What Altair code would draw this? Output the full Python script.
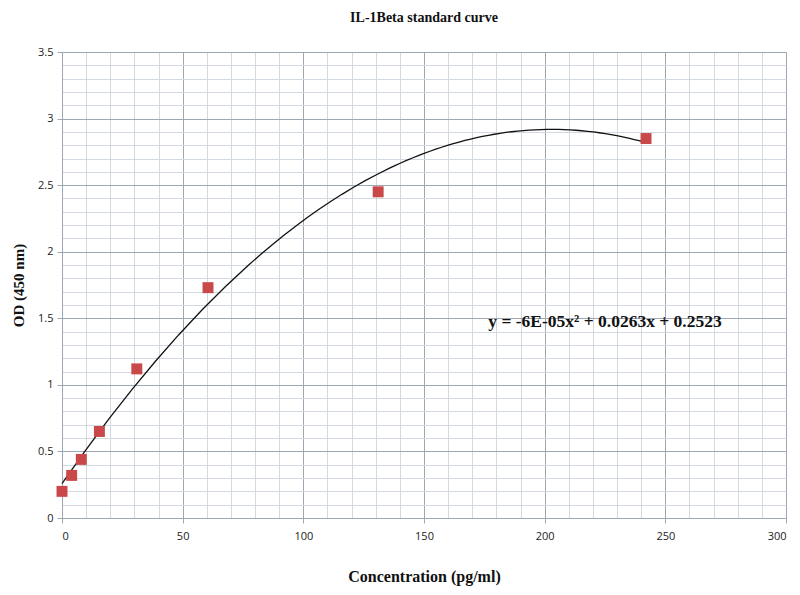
import altair as alt
import pandas as pd

# Standard concentrations (pg/ml) and measured OD (450 nm)
conc = [0, 4, 8, 15.5, 31, 60.5, 131, 242]
od = [0.20, 0.32, 0.44, 0.65, 1.12, 1.73, 2.45, 2.85]

x_ticks = list(range(0, 301, 10))
y_ticks = [round(i * 0.1, 1) for i in range(0, 36)]

eq_label = ["y = -6E-05x\u00b2 + 0.0263x + 0.2523"]
eq_x = [225]
eq_y = [1.47]

df = pd.DataFrame({"conc": conc, "od": od})
eq_df = pd.DataFrame({"conc": eq_x, "od": eq_y, "t": eq_label})

MAJOR = "#9ea8b3"
MINOR = "#d3d9e0"

x_scale = alt.Scale(domain=[0, 300], nice=False)
y_scale = alt.Scale(domain=[0, 3.5], nice=False)

x_axis = alt.Axis(
    values=x_ticks,
    title="Concentration (pg/ml)",
    labelExpr="datum.value % 50 === 0 ? datum.label : ''",
    labelOverlap=False,
    gridColor=alt.condition("datum.value % 50 === 0", alt.value(MAJOR), alt.value(MINOR)),
    tickColor=alt.condition("datum.value % 50 === 0", alt.value(MAJOR), alt.value("transparent")),
    tickSize=5,
    domainColor=MAJOR,
    labelFont="Open Sans",
    labelFontSize=11,
    labelColor="#222222",
    labelPadding=7,
    titleFont="Liberation Serif",
    titleFontSize=16,
    titleFontWeight="bold",
    titleColor="#111111",
    titlePadding=27,
)
y_axis = alt.Axis(
    values=y_ticks,
    title="OD (450 nm)",
    labelExpr="abs(datum.value*2 - round(datum.value*2)) < 0.001 ? '' + round(datum.value*10)/10 : ''",
    labelOverlap=False,
    gridColor=alt.condition("abs(datum.value*2 - round(datum.value*2)) < 0.001", alt.value(MAJOR), alt.value(MINOR)),
    tickColor=alt.condition("abs(datum.value*2 - round(datum.value*2)) < 0.001", alt.value(MAJOR), alt.value("transparent")),
    tickSize=5,
    domainColor=MAJOR,
    labelFont="Open Sans",
    labelFontSize=11,
    labelColor="#222222",
    labelPadding=4,
    titleFont="Liberation Serif",
    titleFontSize=15,
    titleFontWeight="bold",
    titleColor="#111111",
    titlePadding=11,
)

X = alt.X("conc:Q", scale=x_scale, axis=x_axis)
Y = alt.Y("od:Q", scale=y_scale, axis=y_axis)

base = alt.Chart(df)

curve = base.transform_regression(
    "conc", "od", method="poly", order=2
).mark_line(color="#111111", strokeWidth=1.3).encode(x=X, y=Y)

points = base.mark_square(size=120, color="#c9484a", opacity=1).encode(x=X, y=Y)

eq = alt.Chart(eq_df).mark_text(
    font="Liberation Serif", fontSize=17.5, fontWeight="bold", color="#111111"
).encode(x=X, y=Y, text="t:N")

chart = alt.layer(curve, points, eq).properties(
    width=724,
    height=466,
    title=alt.Title(
        "IL-1Beta standard curve",
        font="Liberation Serif",
        fontSize=14,
        fontWeight="bold",
        color="#111111",
        anchor="middle",
        offset=21,
    ),
    autosize=alt.AutoSizeParams(type="none"),
    padding={"left": 54, "top": 44, "right": 6, "bottom": 69},
).configure_view(stroke=None).configure(background="white")

chart.save("out.html", embed_options={"renderer": "svg", "actions": False})
